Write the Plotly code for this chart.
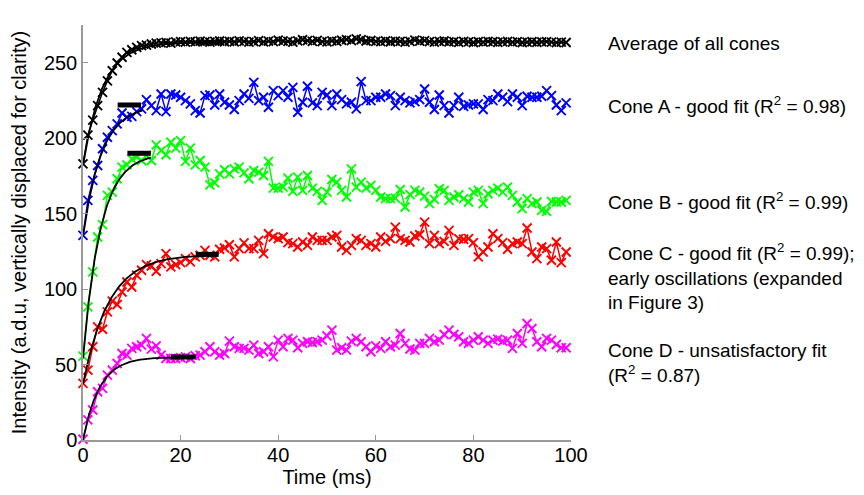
import numpy as np
import plotly.graph_objects as go

# ---------------- data ----------------
time_ms = list(range(100))

avg_all = [183, 202, 212, 221.6, 230.4, 238, 244.7, 249.8, 253.6, 256.9, 258.6, 260.2, 261.3, 261.7, 262.4, 263,
           263.2, 263.5, 263.0, 263.8, 264.0, 263.6, 264.2, 263.8, 264.3, 264.0, 263.6, 264.1, 264.4, 263.9, 264.2, 263.8, 264.5,
           264.2, 263.6, 264.0, 264.6, 263.8, 264.3, 264.0, 265.0, 264.4, 264.1, 263.7, 264.5, 265.2, 264.6, 264.2, 264.8, 264.0,
           263.8, 264.5, 264.2, 264.9, 265.3, 264.6, 265.8, 265.2, 264.4, 264.7, 264.2, 264.0, 264.5, 263.9, 264.3, 264.1, 263.6, 264.2,
           265.0, 264.3, 264.6, 264.0, 263.6, 264.2, 264.4, 263.8, 264.0, 263.5, 264.1, 263.8, 263.4, 264.0, 263.7, 264.2, 263.9,
           263.5, 263.8, 264.1, 263.6, 264.0, 263.4, 263.7, 263.9, 263.5, 263.8, 264.0, 263.6, 263.3, 263.7, 263.4]

cone_a = [135.6, 158.8, 172, 181.9, 193, 200.6, 205, 209.5, 216.7, 213.9, 214.5, 217.6, 219.4, 225.6, 221.6, 218.3, 229.3,
          217.6, 229.3, 228.6, 227.1, 224.9, 222.7, 218.3, 216.7, 228.2, 228.6, 222, 229.3, 223.8, 222, 219, 224.9,
          229.3, 226.4, 237, 224.9, 227.1, 220.5, 231.5, 228.2, 231.5, 227.1, 233.7, 217.2, 223.8, 234.4, 223.4, 221.6, 230.4,
          228.6, 221.6, 229.3, 225.6, 222.7, 223.8, 219.4, 237.5, 224.9, 224.9, 227.1, 227.1, 229.3, 228.2, 221.6, 227.1, 224.9,
          223.4, 224.2, 225.6, 232.6, 223.8, 219, 228.6, 221.6, 216.7, 221.6, 227.1, 221.1, 222, 222.7, 222.7, 219, 225.6, 224.9,
          229.3, 227.1, 224.2, 229.3, 227.1, 221.6, 227.8, 227.1, 227.1, 227.8, 231.5, 228.2, 222, 218.3, 223.4]

cone_b = [55.6, 88.2, 111.4, 134.5, 142.7, 162.1, 164.3, 173.1, 180.8, 182.3, 186.3, 187.4, 185.2, 188.5, 185.2, 195.6, 191.8,
          189, 197.3, 193.4, 198.4, 184.6, 193.4, 182.3, 185.2, 180.8, 169.1, 170.4, 176.4, 179.1, 176.4, 179.7, 180.8,
          177, 173.1, 178.6, 177.5, 175.3, 184.6, 166.9, 166.9, 167.6, 173.5, 164.7, 174.2, 165.4, 175.3, 166.9, 164.7, 158.8,
          164.3, 172.6, 170.9, 165.4, 161, 179.7, 167.6, 170.9, 166.9, 168.7, 165.4, 161, 159.9, 159.9, 160.3, 166, 154.4,
          162.6, 165.4, 164.3, 161.6, 156.6, 159.4, 166.5, 165.4, 158.8, 161, 162.5, 159.9, 157.7, 164.3, 165.4, 156.6, 163.2,
          165.4, 166.9, 164.3, 167.6, 162.1, 157.7, 153.3, 159.9, 156.6, 157.7, 152.2, 151.5, 158.1, 157.7, 157.7, 158.8]

cone_c = [37.5, 46.3, 61.8, 75, 73.4, 84.9, 92, 89.8, 98.1, 104.7, 101.4, 109.2, 112.5, 116.2, 115.3, 111.8, 116.9,
          123.5, 114.7, 116.2, 117.5, 120.2, 118, 121.3, 122.4, 125.7, 122.4, 121.3, 126.4, 127.2, 129.4, 121.3, 126.8,
          130.6, 126.8, 126.8, 132.3, 123.5, 136.7, 134.5, 133.4, 134.5, 130.8, 130.1, 127.9, 131.2, 129, 134.5, 132.3, 132.3,
          132.3, 134.5, 135.6, 127.9, 125.7, 129, 133.4, 132.3, 129, 130.1, 127.9, 134.5, 131.6, 133.4, 141.1, 133.4, 132.3,
          131.2, 135.2, 136, 144.4, 130.1, 135.6, 130.1, 131.6, 138.9, 129, 133.4, 133, 133.4, 130.8, 121.3, 124.6, 127.9,
          136.7, 133.4, 130.8, 126.4, 130.1, 131.2, 130.1, 140.5, 124.6, 120.2, 127.9, 126.8, 119.1, 131.2, 117.5, 124.6]

cone_d = [0.5, 13.3, 19.9, 32, 34.2, 43, 46.3, 50.7, 57.3, 56.2, 60.7, 61.8, 62.9, 67.3, 60.2, 62.4, 56.2,
          54, 54, 54, 54.5, 55.1, 54, 55.8, 56.2, 58.5, 61.8, 58.5, 56.2, 57.3, 65.5, 61.8, 60.7,
          60.7, 59.6, 62.9, 57.3, 58.5, 61.8, 55.1, 66.2, 61.8, 67.3, 66.2, 61.1, 64, 65.1, 64.6, 65.1, 66.2,
          69, 72.8, 59.6, 61.1, 59.6, 65.5, 67.3, 65.1, 61.8, 58.5, 62.4, 60.7, 65.1, 61.8, 62.9, 70.6, 64,
          60.3, 59.6, 64, 64, 67.3, 65.1, 66.2, 69.9, 72.8, 69.9, 68.4, 65.1, 64, 66.2, 68.4, 66.2, 64, 66.2,
          66.8, 65.5, 66.2, 60.7, 70.6, 64, 77.2, 73.9, 65.1, 61.8, 67.3, 66.2, 63.3, 61.1, 61.1]

series_names = ["Average of all cones", "Cone A", "Cone B", "Cone C", "Cone D"]
series_values = [avg_all, cone_a, cone_b, cone_c, cone_d]
series_colors = ["#000000", "#0000ff", "#00ff00", "#ff0000", "#ff00ff"]

# exponential fits: y = start + (plateau - start) * (1 - exp(-t / tau)), 0 <= t <= fit_end
fit_start = [182, 135, 54, 37, 0]
fit_plateau = [263.5, 222, 190, 123, 55]
fit_tau = [4.0, 3.8, 3.6, 5.3, 3.4]
fit_end = [24, 12.2, 13.9, 27.5, 23]

# plateau markers (thick horizontal bars)
bar_t0 = [23.5, 7.1, 9.1, 23.1, 18.0]
bar_t1 = [28.5, 11.9, 13.9, 27.8, 23.1]
bar_y = [263.5, 222, 190, 123, 55]

label_texts = [
    "Average of all cones",
    "Cone A - good fit (R<sup>2</sup> = 0.98)",
    "Cone B - good fit (R<sup>2</sup> = 0.99)",
    "Cone C - good fit (R<sup>2</sup> = 0.99);<br>early oscillations (expanded<br>in Figure 3)",
    "Cone D - unsatisfactory fit<br>(R<sup>2</sup> = 0.87)",
]
label_y = [262.6, 222, 158.7, 108.5, 51]
label_x = 1.072  # paper fraction, just right of the axes

x_ticks = [0, 20, 40, 60, 80, 100]
y_ticks = [0, 50, 100, 150, 200, 250]

# ---------------- figure ----------------
FONT = "Liberation Sans, Arial, sans-serif"
fig = go.Figure()

for name, vals, col in zip(series_names, series_values, series_colors):
    fig.add_trace(go.Scatter(
        x=time_ms, y=vals, mode="lines+markers", name=name,
        line=dict(color=col, width=1.5),
        marker=dict(symbol="x-thin", size=9, line=dict(color=col, width=1.9)),
        cliponaxis=False, showlegend=False,
    ))

for s, p, tau, te in zip(fit_start, fit_plateau, fit_tau, fit_end):
    tt = np.linspace(0, te, 200)
    yy = s + (p - s) * (1 - np.exp(-tt / tau))
    fig.add_trace(go.Scatter(x=tt, y=yy, mode="lines", line=dict(color="black", width=1.8),
                             showlegend=False, hoverinfo="skip"))

for a, b, yv in zip(bar_t0, bar_t1, bar_y):
    fig.add_trace(go.Scatter(x=[a, b], y=[yv, yv], mode="lines", line=dict(color="black", width=5),
                             showlegend=False, hoverinfo="skip"))

for txt, yv in zip(label_texts, label_y):
    fig.add_annotation(x=label_x, y=yv, xref="paper", yref="y", text=txt, showarrow=False,
                       xanchor="left", yanchor="middle", align="left",
                       font=dict(family=FONT, size=19, color="black"))

axis_common = dict(showline=True, linecolor="#999999", linewidth=1.5, ticks="inside", ticklen=5,
                   tickcolor="#999999", tickwidth=1, showgrid=False, zeroline=False, automargin=False,
                   tickfont=dict(family=FONT, size=20, color="black"))

# the page body adds an 8 px offset, so the figure is 8 px smaller and margins shifted
fig.update_layout(
    width=856, height=487,
    margin=dict(l=75, r=293, t=17, b=55),
    paper_bgcolor="white", plot_bgcolor="white",
    xaxis=dict(range=[0, 100], tickvals=x_ticks, ticklabelstandoff=-4,
               title=dict(text="Time (ms)", font=dict(family=FONT, size=20, color="black"), standoff=0),
               **axis_common),
    yaxis=dict(range=[0, 275], tickvals=y_ticks,
               title=dict(text="Intensity (a.d.u, vertically displaced for clarity)",
                          font=dict(family=FONT, size=20, color="black")),
               **axis_common),
)

fig.write_html("out.html")
